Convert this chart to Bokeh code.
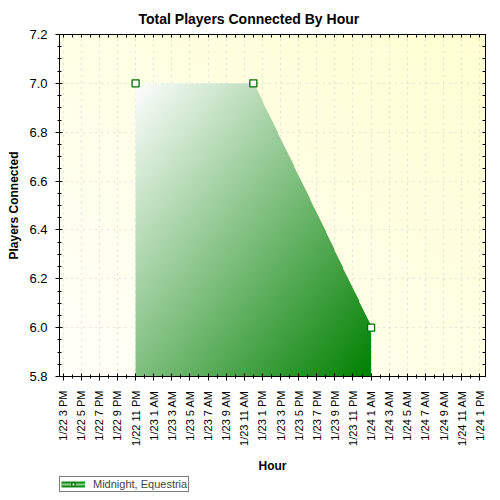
import numpy as np
from bokeh.plotting import figure
from bokeh.layouts import column
from bokeh.models import (FixedTicker, LinearAxis, Range1d, Legend, LegendItem,
                          PrintfTickFormatter)
from bokeh.embed import file_html
from bokeh.resources import INLINE

# hours counted from 1/22 12 AM
hours = [23, 36, 49]
players = [7.0, 7.0, 6.0]

tick_hours = list(range(15, 62, 2))
tick_labels = ["1/22 3 PM", "1/22 5 PM", "1/22 7 PM", "1/22 9 PM", "1/22 11 PM",
               "1/23 1 AM", "1/23 3 AM", "1/23 5 AM", "1/23 7 AM", "1/23 9 AM",
               "1/23 11 AM", "1/23 1 PM", "1/23 3 PM", "1/23 5 PM", "1/23 7 PM",
               "1/23 9 PM", "1/23 11 PM", "1/24 1 AM", "1/24 3 AM", "1/24 5 AM",
               "1/24 7 AM", "1/24 9 AM", "1/24 11 AM", "1/24 1 PM"]
y_ticks = [5.8, 6.0, 6.2, 6.4, 6.6, 6.8, 7.0, 7.2]
series_name = "Midnight, Equestria"

x_start, x_end = 14.6, 61.63
y_start, y_end = 5.8, 7.2
FONT = "Liberation Sans"
FW, FH = 426, 342

p = figure(width=492, height=476,
           x_range=Range1d(x_start, x_end), y_range=Range1d(y_start, y_end),
           output_backend="svg", toolbar_location=None,
           min_border_left=59, min_border_right=7, min_border_top=34,
           min_border_bottom=100, background_fill_color="#FFFFEC",
           border_fill_color="white", outline_line_color="black")

# background gradient, white-ish bottom left to light yellow top right
u = (np.arange(FW) + 0.5) / FW
w = (np.arange(FH) + 0.5) / FH
t = (u[None, :] + w[:, None]) / 2
bg = np.empty((FH, FW), dtype=np.uint32)
bv = bg.view(dtype=np.uint8).reshape((FH, FW, 4))
bv[..., 0] = 255
bv[..., 1] = 255
bv[..., 2] = (250 - 40 * t).astype(np.uint8)
bv[..., 3] = 255
p.image_rgba(image=[bg], x=x_start, y=y_start, dw=x_end - x_start,
             dh=y_end - y_start, level="image")

# area with diagonal white -> green gradient
nx, ny = 236, 292
x0, x1 = hours[0], hours[-1]
ytop = max(players)
xs = x0 + (np.arange(nx) + 0.5) * (x1 - x0) / nx
ys = y_start + (np.arange(ny) + 0.5) * (ytop - y_start) / ny
upper = np.interp(xs, hours, players)
inside = ys[:, None] <= upper[None, :]
gu = (np.arange(nx) + 0.5) / nx
gv = 1 - (np.arange(ny) + 0.5) / ny
gt = (gu[None, :] + gv[:, None]) / 2
img = np.empty((ny, nx), dtype=np.uint32)
iv = img.view(dtype=np.uint8).reshape((ny, nx, 4))
iv[..., 0] = (255 * (1 - gt)).astype(np.uint8)
iv[..., 1] = (255 - 127 * gt).astype(np.uint8)
iv[..., 2] = (255 * (1 - gt)).astype(np.uint8)
iv[..., 3] = np.where(inside, 255, 0).astype(np.uint8)
p.image_rgba(image=[img], x=x0, y=y_start, dw=x1 - x0, dh=ytop - y_start)

p.scatter(hours, players, marker="square", size=7, fill_color="white",
          line_color="#007000", line_width=1.3)

x_minor = list(range(15, 62))
y_minor = [round(5.8 + 0.05 * i, 2) for i in range(29)]
xticker = FixedTicker(ticks=tick_hours, minor_ticks=x_minor)
yticker = FixedTicker(ticks=y_ticks, minor_ticks=y_minor)

xa = p.xaxis[0]
xa.ticker = xticker
xa.major_label_overrides = {h: s for h, s in zip(tick_hours, tick_labels)}
xa.major_label_orientation = np.pi / 2
xa.axis_label = "Hour"
xa.major_label_standoff = 10
xa.axis_label_standoff = 10

ya = p.yaxis[0]
ya.ticker = yticker
ya.formatter = PrintfTickFormatter(format="%.1f")
ya.axis_label = "Players Connected"
ya.major_label_standoff = 8
ya.axis_label_standoff = 5

for ax in (xa, ya):
    ax.axis_line_color = "black"
    ax.major_tick_line_color = "black"
    ax.minor_tick_line_color = "black"
    ax.major_tick_in = 3
    ax.major_tick_out = 4
    ax.minor_tick_in = 2
    ax.minor_tick_out = 2
    ax.major_label_text_font = FONT
    ax.major_label_text_color = "black"
    ax.axis_label_text_font = FONT
    ax.axis_label_text_font_style = "bold"
    ax.axis_label_text_font_size = "12px"
    ax.axis_label_text_color = "black"
xa.major_label_text_font_size = "11px"
ya.major_label_text_font_size = "13px"

# inner ticks along top and right edge (no labels)
top = LinearAxis(ticker=FixedTicker(ticks=[], minor_ticks=x_minor))
right = LinearAxis(ticker=FixedTicker(ticks=[], minor_ticks=y_minor))
for ax in (top, right):
    ax.minor_tick_in = 3
    ax.minor_tick_out = 0
    ax.major_tick_out = 0
    ax.major_label_standoff = 0
    ax.axis_line_color = "black"
    ax.minor_tick_line_color = "black"
p.add_layout(top, "above")
p.add_layout(right, "right")

for g in (p.xgrid[0], p.ygrid[0]):
    g.grid_line_color = "#c4c4c4"
    g.grid_line_dash = "1 5"
    g.grid_line_width = 1
p.xgrid[0].ticker = xticker
p.ygrid[0].ticker = yticker

p.title.text = "Total Players Connected By Hour"
p.title.text_font = FONT
p.title.text_font_size = "14px"
p.title.text_font_style = "bold"
p.title.text_color = "black"
p.title.align = "left"
p.title.offset = 79
p.title.standoff = 15

# legend strip under the chart (its frame lines up with the chart frame)
lg = figure(width=492, height=16, output_backend="svg", toolbar_location=None,
            x_range=Range1d(0, 1), y_range=Range1d(0, 1),
            x_axis_location=None, y_axis_location=None, min_border=0,
            outline_line_color=None, border_fill_color="white",
            background_fill_color="white")
lg.grid.visible = False
nothing = [np.nan]
band = lg.line(x=nothing, y=nothing, line_color="#158c15", line_width=6)
stripe = lg.line(x=nothing, y=nothing, line_color="#8ccc8c", line_width=2)
mark = lg.scatter(x=nothing, y=nothing, marker="square", size=7,
                  fill_color="white", line_color="#007000", line_width=1.3)
legend = Legend(items=[LegendItem(label=series_name,
                                  renderers=[band, stripe, mark])],
                location=(0, 0), orientation="vertical",
                label_text_font=FONT, label_text_font_size="11px",
                label_height=9, glyph_height=8, glyph_width=24,
                label_standoff=8, padding=1, margin=0, spacing=0,
                border_line_color="black", border_line_width=1,
                background_fill_color="white", background_fill_alpha=1)
lg.add_layout(legend, "center")

open("out.html", "w").write(file_html(column(p, lg, spacing=0), INLINE))
